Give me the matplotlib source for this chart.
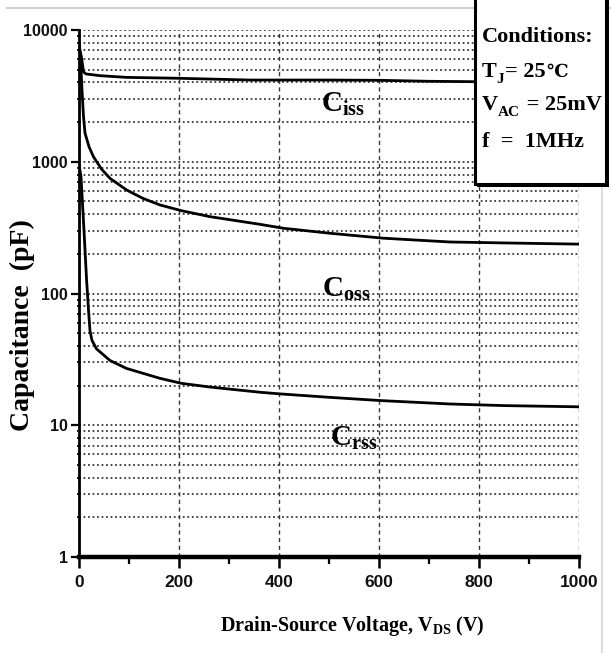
import matplotlib
matplotlib.use("Agg")
import matplotlib.pyplot as plt
from matplotlib.ticker import FixedLocator, FixedFormatter, LogLocator, NullFormatter, MultipleLocator
from matplotlib.patches import Rectangle
from matplotlib.lines import Line2D

# ---------------- data ----------------
V_ciss = [0, 2, 5, 9, 14, 42, 95, 200, 342, 500, 602, 700, 800, 900, 1000]
C_ciss = [8000, 7000, 6200, 4800, 4640, 4500, 4370, 4300, 4170, 4170, 4150, 4080, 4050, 4020, 4000]

V_coss = [0, 3, 6, 9, 12, 20, 29, 45, 62, 95, 128, 162, 205, 262, 362, 408, 500, 608, 742, 850, 1000]
C_coss = [8000, 6000, 3500, 2200, 1650, 1300, 1090, 880, 748, 611, 527, 470, 425, 383, 335, 313, 287, 263, 246, 242, 237]

V_crss = [0, 4, 10, 15, 19, 22, 26, 35, 62, 95, 162, 205, 262, 362, 402, 500, 602, 742, 850, 1000]
C_crss = [950, 770, 300, 130, 75, 52, 44, 38, 31, 27, 22.7, 20.8, 19.5, 17.8, 17.3, 16.3, 15.4, 14.5, 14.1, 13.8]

curve_labels = ["iss", "oss", "rss"]
label_pos_v = [484, 486, 502]
label_pos_c = [2400, 94, 7.0]

x_ticks = [0, 200, 400, 600, 800, 1000]
x_ticklabels = ["0", "200", "400", "600", "800", "1000"]
y_ticks = [1, 10, 100, 1000, 10000]
y_ticklabels = ["1", "10", "100", "1000", "10000"]

xlabel = "Drain-Source Voltage, V$_{\\rm DS}$ (V)"
ylabel = "Capacitance  (pF)"
cond_title = "Conditions:"
# (text, role): 0 = main, 1 = subscript, 2 = symbol
cond_lines = [
    [("T", 0), ("J", 1), ("= 25", 0), ("\u2103", 2)],
    [("V", 0), ("AC", 1), (" = 25mV", 0)],
    [("f  =  1MHz", 0)],
]

# ---------------- style ----------------
plt.rcParams["mathtext.fontset"] = "custom"
plt.rcParams["mathtext.rm"] = "Liberation Serif:bold"
plt.rcParams["mathtext.bf"] = "Liberation Serif:bold"
plt.rcParams["mathtext.it"] = "Liberation Serif:bold"

SERIF = ["Liberation Serif", "DejaVu Serif", "DejaVu Sans", "Noto Sans CJK SC"]
TICKFONT = ["Liberation Sans"]

W, H = 611, 653
fig = plt.figure(figsize=(W / 100, H / 100), dpi=100)
fig.patch.set_facecolor("white")

def fx(px):
    return px / W

def fy(py):
    return 1 - py / H

ax = fig.add_axes([fx(79), fy(557), fx(579) - fx(79), fy(30) - fy(557)])
ax.set_yscale("log")
ax.set_xlim(0, 1000)
ax.set_ylim(1, 10000)

ax.yaxis.set_major_locator(FixedLocator(y_ticks))
ax.yaxis.set_major_formatter(FixedFormatter(y_ticklabels))
ax.yaxis.set_minor_locator(LogLocator(base=10, subs=range(2, 10)))
ax.yaxis.set_minor_formatter(NullFormatter())
ax.xaxis.set_major_locator(FixedLocator(x_ticks))
ax.xaxis.set_major_formatter(FixedFormatter(x_ticklabels))
ax.xaxis.set_minor_locator(MultipleLocator(100))

ax.yaxis.grid(True, which="both", linestyle=(0, (1.0, 1.5)), color="#383838", lw=1.3)
ax.xaxis.grid(True, which="major", linestyle=(0, (3.0, 2.5)), color="#383838", lw=1.0)
ax.set_axisbelow(True)

for s in ["top", "right"]:
    ax.spines[s].set_visible(False)
ax.spines["left"].set_linewidth(2.0)
ax.spines["bottom"].set_linewidth(3.2)

ax.tick_params(axis="x", which="major", direction="out", length=8, width=1.8, pad=5)
ax.tick_params(axis="x", which="minor", direction="out", length=5, width=1.6)
ax.tick_params(axis="y", which="major", direction="out", length=6, width=1.6, pad=2)
ax.tick_params(axis="y", which="minor", direction="inout", length=3, width=1.2)
for lab in ax.get_xticklabels():
    lab.set_fontfamily(TICKFONT)
    lab.set_fontweight("bold")
    lab.set_fontsize(12.5)
    lab.set_color("#111111")
for lab in ax.get_yticklabels():
    lab.set_fontfamily(TICKFONT)
    lab.set_fontweight("bold")
    lab.set_fontsize(11.5)
    lab.set_color("#111111")

# curves
ax.plot(V_ciss, C_ciss, color="black", lw=2.0, zorder=3)
ax.plot(V_coss, C_coss, color="black", lw=2.0, zorder=3)
ax.plot(V_crss, C_crss, color="black", lw=2.0, zorder=3)

for sub, v, c in zip(curve_labels, label_pos_v, label_pos_c):
    ax.text(v, c, "C$_{\\rm %s}$" % sub, fontsize=21, family=SERIF, fontweight="bold",
            ha="left", va="baseline", zorder=4)

# axis labels
fig.text(fx(352), fy(631), xlabel, fontsize=14.5, family=SERIF, fontweight="bold",
         ha="center", va="baseline")
fig.text(fx(22), fy(325), ylabel, fontsize=20, family=SERIF, fontweight="bold",
         rotation=90, ha="center", va="center")

# page border lines (light gray)
fig.add_artist(Line2D([fx(7), 1.0], [fy(7.5), fy(7.5)], color="#cfcfcf", lw=1.5))
fig.add_artist(Line2D([fx(602), fx(602)], [fy(0), fy(653)], color="#dddddd", lw=1.5))

# conditions box
shadow = Rectangle((fx(477), fy(187)), fx(609) - fx(477), fy(-20) - fy(187),
                   transform=fig.transFigure, facecolor="black", edgecolor="black", lw=0, zorder=5)
box = Rectangle((fx(475), fy(184)), fx(606) - fx(475), fy(-20) - fy(184),
                transform=fig.transFigure, facecolor="white", edgecolor="black", lw=2.2, zorder=6)
fig.add_artist(shadow)
fig.add_artist(box)

renderer = fig.canvas.get_renderer()
MAIN, SUB, SYM = 16, 11, 13
tx = 482
fig.text(fx(tx), fy(42), cond_title, fontsize=MAIN, family=SERIF, fontweight="bold",
         va="baseline", ha="left", zorder=7)
for base, parts in zip([77, 110, 147], cond_lines):
    x = tx
    for txt, role in parts:
        size = {0: MAIN, 1: SUB, 2: SYM}[role]
        dy = 6 if role == 1 else 0
        t = fig.text(fx(x), fy(base + dy), txt, fontsize=size, family=SERIF,
                     fontweight="bold", va="baseline", ha="left", zorder=7)
        x += t.get_window_extent(renderer).width + (1 if role == 1 else 0)

fig.savefig("out.png", dpi=100, facecolor="white")
